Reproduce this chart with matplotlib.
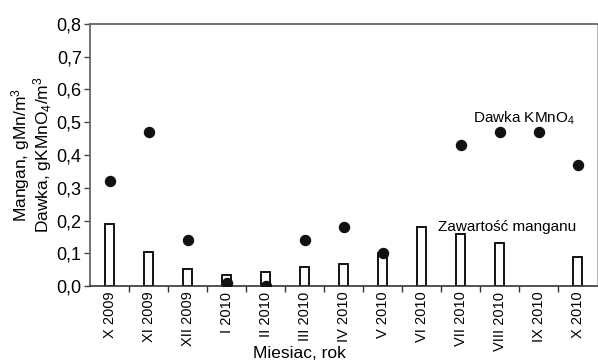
import matplotlib.pyplot as plt
import numpy as np

plt.rcParams["font.family"] = ["Liberation Sans", "DejaVu Sans"]
plt.rcParams["mathtext.fontset"] = "custom"
plt.rcParams["mathtext.rm"] = "Liberation Sans"
plt.rcParams["mathtext.it"] = "Liberation Sans"

months = [
    "X 2009", "XI 2009", "XII 2009", "I 2010", "II 2010", "III 2010",
    "IV 2010", "V 2010", "VI 2010", "VII 2010", "VIII 2010", "IX 2010",
    "X 2010",
]
manganese = [0.19, 0.105, 0.053, 0.034, 0.042, 0.059, 0.066, 0.10,
             0.181, 0.158, 0.13, np.nan, 0.088]
dose = [0.32, 0.47, 0.14, 0.01, 0.0, 0.14, 0.18, 0.10,
        np.nan, 0.43, 0.47, 0.47, 0.37]
y_ticks = [0.0, 0.1, 0.2, 0.3, 0.4, 0.5, 0.6, 0.7, 0.8]

figure = plt.figure(figsize=(5.98, 3.63), dpi=100)
axis = figure.add_axes([0.1505, 0.212, 0.848, 0.722])

x = np.arange(len(months))

axis.bar(x, manganese, width=0.23, facecolor="white",
         edgecolor="black", linewidth=1.3, zorder=2)
axis.scatter(x, dose, s=52, color="#111111", zorder=3)

axis.set_xlim(-0.5, len(months) - 0.5)
axis.set_ylim(0, 0.8)

axis.set_yticks(y_ticks)
axis.set_yticklabels([f"{v:.1f}".replace(".", ",") for v in y_ticks],
                     fontsize=13)
axis.tick_params(axis="y", direction="out", length=4, width=1,
                 color="#444444", pad=2)

axis.set_xticks(x)
axis.set_xticklabels(months, rotation=90, fontsize=10.5)
axis.tick_params(axis="x", which="major", length=0, pad=4)
axis.set_xticks(np.arange(0.5, len(months) - 1, 1.0), minor=True)
axis.tick_params(axis="x", which="minor", direction="out", length=4,
                 width=1, color="#333333")

for name in ["left", "top"]:
    axis.spines[name].set_color("#666666")
    axis.spines[name].set_linewidth(1.3)
axis.spines["bottom"].set_color("#333333")
axis.spines["bottom"].set_linewidth(1.2)
axis.spines["right"].set_color("#bbbbbb")
axis.spines["right"].set_linewidth(0.8)

axis.set_ylabel("Mangan, gMn/m$^3$\nDawka, gKMnO$_4$/m$^3$",
                fontsize=12.5, linespacing=0.95, labelpad=2)
figure.text(0.5, 0.005, "Miesiac, rok", ha="center", va="bottom",
            fontsize=12.5)

axis.text(10.62, 0.513, "Dawka KMnO$_4$", ha="center", va="center",
          fontsize=11)
axis.text(10.2, 0.18, "Zawartość manganu", ha="center", va="center",
          fontsize=11)

figure.savefig("out.png", dpi=100)
